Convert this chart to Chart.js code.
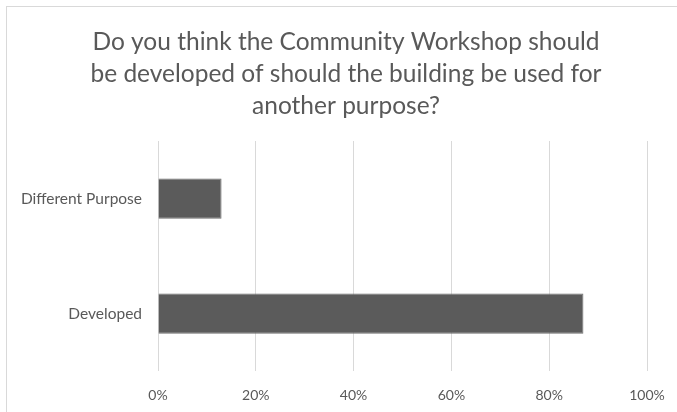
<!DOCTYPE html>
<html>
<head>
<meta charset="utf-8">
<script src="https://cdn.jsdelivr.net/npm/chart.js@4"></script>
<style>
  html, body { margin: 0; padding: 0; background: #fff; overflow: hidden; }
  #frame {
    position: absolute; left: 6px; top: 6px;
    width: 700px; height: 430px;
    border: 1px solid #d9d9d9;
  }
  #wrap { position: relative; width: 678px; height: 406px; }
</style>
</head>
<body>
<div id="frame"><div id="wrap"><canvas id="chart"></canvas></div></div>
<script>
// chart data
const titleLines = [
    'Do you think the Community Workshop should',
    'be developed of should the building be used for',
    'another purpose?'
];
const categories = ['Different Purpose', 'Developed'];
const percentages = [13, 87];
const axisMin = 0;
const axisMax = 100;
const axisStep = 20;

const textColor = '#595959';
const fontFamily = 'Lato, "Liberation Sans", sans-serif';

document.addEventListener('DOMContentLoaded', function() {
    const ctx = document.getElementById('chart').getContext('2d');
    new Chart(ctx, {
        type: 'bar',
        data: {
            labels: categories,
            datasets: [{
                data: percentages,
                backgroundColor: '#5b5b5b',
                borderColor: '#6e6e6e',
                borderWidth: 1,
                barPercentage: 0.35,
                categoryPercentage: 1
            }]
        },
        options: {
            indexAxis: 'y',
            responsive: true,
            maintainAspectRatio: false,
            animation: false,
            layout: { padding: 0 },
            plugins: {
                legend: { display: false },
                tooltip: { enabled: false },
                title: {
                    display: true,
                    text: titleLines,
                    color: textColor,
                    font: { family: fontFamily, size: 24.5, weight: 'normal', lineHeight: 32 / 24.5 },
                    padding: { top: 19, bottom: 19 }
                }
            },
            scales: {
                x: {
                    min: axisMin,
                    max: axisMax,
                    grid: { color: '#d9d9d9', drawTicks: false },
                    border: { display: false },
                    ticks: {
                        stepSize: axisStep,
                        padding: 16,
                        color: textColor,
                        font: { family: fontFamily, size: 14 },
                        callback: function(value) { return value + '%'; }
                    },
                    afterFit: function(scale) { scale.height = 42; }
                },
                y: {
                    grid: { display: false, drawTicks: false },
                    border: { display: false },
                    ticks: {
                        padding: 16,
                        color: textColor,
                        font: { family: fontFamily, size: 15.5 }
                    },
                    afterFit: function(scale) { scale.width = 151; }
                },
                // empty right-hand spacer so the plot ends before the frame edge
                spacer: {
                    axis: 'y',
                    position: 'right',
                    grid: { display: false, drawTicks: false },
                    border: { display: false },
                    ticks: { display: false },
                    afterFit: function(scale) { scale.width = 38; }
                }
            }
        }
    });
});
</script>
</body>
</html>
